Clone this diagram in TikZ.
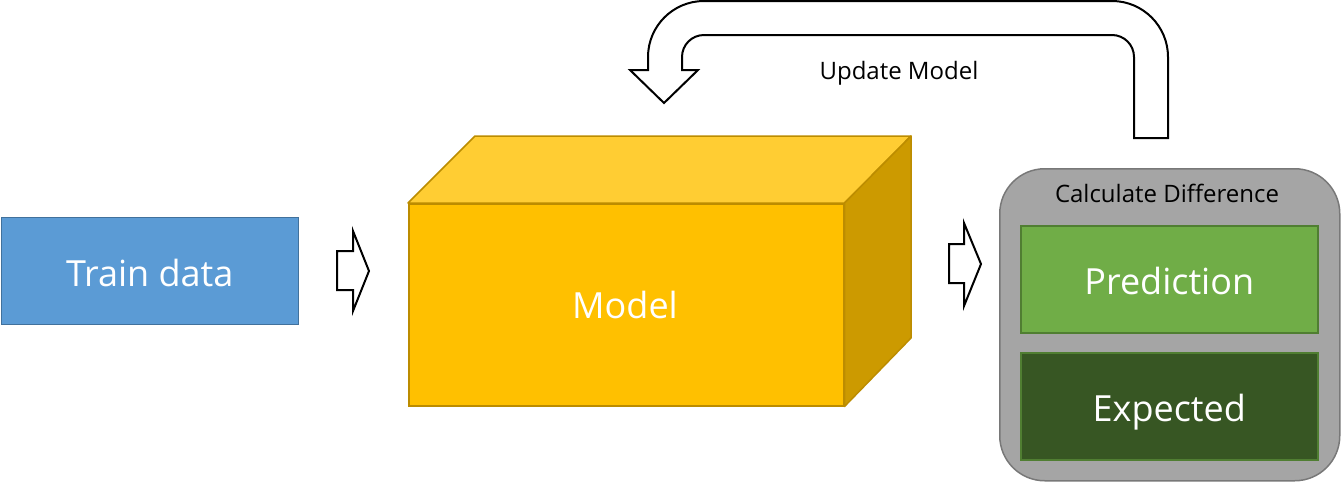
\documentclass[tikz,border=0pt]{standalone}
\usepackage{fontspec}
\setmainfont{Open Sans}
\definecolor{trainfill}{HTML}{5B9BD5}
\definecolor{trainline}{HTML}{41719C}
\definecolor{cubefront}{HTML}{FFC000}
\definecolor{cubetop}{HTML}{FFCD33}
\definecolor{cubeside}{HTML}{CC9A00}
\definecolor{cubeline}{HTML}{BC8C00}
\definecolor{grayfill}{HTML}{A5A5A5}
\definecolor{grayline}{HTML}{787878}
\definecolor{predfill}{HTML}{70AD47}
\definecolor{greenline}{HTML}{507E32}
\definecolor{expfill}{HTML}{375623}
\tikzset{
  bigtext/.style={text=white, font=\fontsize{36}{42}\selectfont, text height=36pt, text depth=5.3pt},
  smalltext/.style={text=black, font=\fontsize{24}{28}\selectfont},
  box/.style={rectangle, anchor=north west, inner sep=0pt, line width=1.5pt},
  blockarrow/.style={draw=black, fill=white, line width=2pt, line join=miter},
}
\begin{document}
\begin{tikzpicture}[x=1pt, y=-1pt]
\useasboundingbox (0,0) rectangle (1341,483);
% Train data
\node[box, bigtext, draw=trainline, fill=trainfill, minimum width=297pt, minimum height=107pt] (train) at (0.5,216.5) {Train data};
% arrow 1
\draw[blockarrow] (337,251) -- (353,251) -- (353,231) -- (369,271) -- (353,311) -- (353,290) -- (337,290) -- cycle;
% Model cube
\node[box, draw=cubeline, fill=cubefront, minimum width=435pt, minimum height=202pt] (model) at (408,203) {};
\coordinate (tl) at (475,136);
\coordinate (tr) at (911,136);
\coordinate (br) at (911,338);
\draw[cubeline, fill=cubetop, line width=1.5pt, line join=round] (model.north west) -- (tl) -- (tr) -- (model.north east) -- cycle;
\draw[cubeline, fill=cubeside, line width=1.5pt, line join=round] (model.north east) -- (tr) -- (br) -- (model.south east) -- cycle;
\node[bigtext] (modeltext) at (625,303) {Model};
% arrow 2
\draw[blockarrow] (949,244) -- (964,244) -- (964,223) -- (981,264) -- (964,306) -- (964,283) -- (949,283) -- cycle;
% Calculate difference box
\node[box, draw=grayline, fill=grayfill, rounded corners=45pt, minimum width=340pt, minimum height=312pt] (calc) at (999,168) {};
\node[smalltext] (calctext) at (1167,193) {Calculate Difference};
\node[box, bigtext, draw=greenline, fill=predfill, minimum width=297pt, minimum height=107pt] (pred) at (1020,225) {Prediction};
\node[box, bigtext, draw=greenline, fill=expfill, minimum width=297pt, minimum height=107pt] (exp) at (1020,352) {Expected};
% U-turn arrow
\draw[blockarrow] (1168,138) -- (1168,57) arc[start angle=0, end angle=90, radius=56pt]
  -- (704,1) arc[start angle=90, end angle=180, radius=56pt]
  -- (648,70) -- (630,70) -- (664,103) -- (698,70) -- (682,70)
  -- (682,57) arc[start angle=180, end angle=90, radius=22pt]
  -- (1112,35) arc[start angle=90, end angle=0, radius=22pt]
  -- (1134,138) -- cycle;
\node[smalltext] (update) at (899,73) {Update Model};
\end{tikzpicture}
\end{document}
